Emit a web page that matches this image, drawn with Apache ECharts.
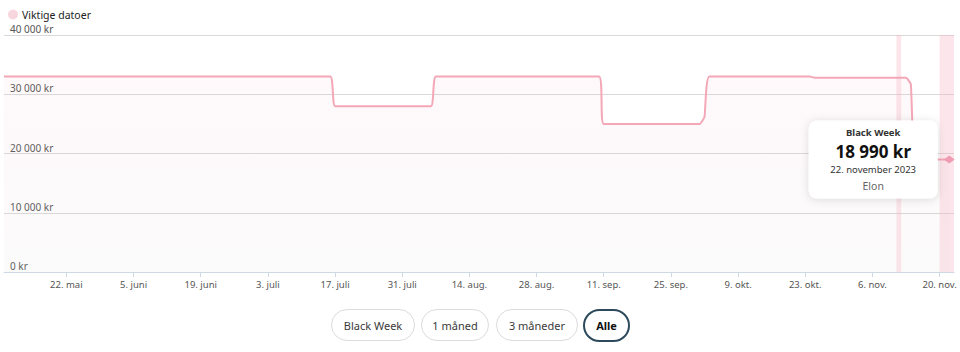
<!DOCTYPE html>
<html>
<head>
<meta charset="utf-8">
<script src="https://cdn.jsdelivr.net/npm/echarts@6/dist/echarts.min.js"></script>
<style>
  html, body { margin: 0; padding: 0; background: #fff; }
  #chart { width: 960px; height: 352px; }
</style>
</head>
<body>
<div id="chart"></div>
<script>
// prisdata (dato -> pris i kr)
const priceDates = [
  '2023-05-09', '2023-07-16', '2023-07-17', '2023-08-06', '2023-08-07',
  '2023-09-10', '2023-09-11', '2023-10-01', '2023-10-02', '2023-10-03',
  '2023-10-24', '2023-10-25', '2023-11-13', '2023-11-14', '2023-11-15',
  '2023-11-22'
]
const priceValues = [
  32990, 32990, 27990, 27990, 32990,
  32990, 24990, 24990, 26190, 32990,
  32990, 32790, 32790, 31690, 18990,
  18990
]

// viktige datoer (Singles Day, Black Week)
const eventNames = ['Singles Day', 'Black Week']
const eventStart = ['2023-11-11', '2023-11-20']
const eventEnd = ['2023-11-12', '2023-11-23']

const tickDates = [
  '2023-05-22', '2023-06-05', '2023-06-19', '2023-07-03', '2023-07-17',
  '2023-07-31', '2023-08-14', '2023-08-28', '2023-09-11', '2023-09-25',
  '2023-10-09', '2023-10-23', '2023-11-06', '2023-11-20'
]
const tickLabels = [
  '22. mai', '5. juni', '19. juni', '3. juli', '17. juli',
  '31. juli', '14. aug.', '28. aug.', '11. sep.', '25. sep.',
  '9. okt.', '23. okt.', '6. nov.', '20. nov.'
]
const yTicks = [0, 10000, 20000, 30000, 40000]

const tipTitle = 'Black Week'
const tipDate = '22. november 2023'
const tipShop = 'Elon'

const buttonLabels = ['Black Week', '1 måned', '3 måneder', 'Alle']

const toDay = function(s) {
  const p = s.split('-').map(Number)
  return Date.UTC(p[0], p[1] - 1, p[2]) / 86400000
}
const fmtKr = function(v) {
  return String(v).replace(/\B(?=(\d{3})+(?!\d))/g, ' ') + ' kr'
}

const tickDays = tickDates.map(toDay)
const lineData = priceDates.map((d, i) => [toDay(d), priceValues[i]])
const last = lineData[lineData.length - 1]

const font = '"Noto Sans", "DejaVu Sans", sans-serif'
const lineColor = '#f3a7b7'

// knapper under grafen
const btnX = [331, 421, 496, 583]
const btnW = [83, 67, 81, 45]
const buttons = buttonLabels.map((t, i) => {
  const active = i === buttonLabels.length - 1
  return {
    type: 'group',
    left: btnX[i],
    top: 309,
    children: [
      {
        type: 'rect',
        shape: { x: 0, y: 0, width: btnW[i], height: 31, r: 15.5 },
        style: {
          fill: '#fff',
          stroke: active ? '#2c4a5b' : '#dcdcdc',
          lineWidth: active ? 2 : 1
        }
      },
      {
        type: 'text',
        x: btnW[i] / 2,
        y: 15.5,
        style: {
          text: t,
          fill: active ? '#111' : '#3a3a3a',
          font: (active ? 'bold ' : '') + '11px ' + font,
          align: 'center',
          verticalAlign: 'middle'
        }
      }
    ]
  }
})

const chart = echarts.init(document.getElementById('chart'), null, { renderer: 'svg' })
chart.setOption({
  backgroundColor: '#fff',
  animation: false,
  textStyle: { fontFamily: font },
  legend: {
    left: 3,
    top: 4,
    icon: 'circle',
    itemWidth: 10,
    itemHeight: 10,
    itemGap: 4,
    data: ['Viktige datoer'],
    selectedMode: false,
    textStyle: { color: '#222', fontSize: 10.5, fontFamily: font, padding: [0, 0, 0, -1] }
  },
  grid: { left: 4, right: 6, top: 35, bottom: 80 },
  xAxis: {
    type: 'value',
    min: toDay('2023-05-09'),
    max: toDay('2023-11-23'),
    axisLine: { lineStyle: { color: '#cfd9e4', width: 1 } },
    axisTick: {
      show: true,
      customValues: tickDays,
      length: 5,
      lineStyle: { color: '#cfd9e4' }
    },
    axisLabel: {
      customValues: tickDays,
      color: '#555',
      fontSize: 9.5,
      margin: 7,
      formatter: function(v) {
        const i = tickDays.indexOf(v)
        return i >= 0 ? tickLabels[i] : ''
      }
    },
    splitLine: { show: false }
  },
  yAxis: {
    type: 'value',
    min: yTicks[0],
    max: yTicks[yTicks.length - 1],
    interval: yTicks[1] - yTicks[0],
    axisLine: { show: false },
    axisTick: { show: false },
    axisLabel: {
      inside: true,
      margin: 6,
      color: '#555',
      fontSize: 10,
      verticalAlign: 'bottom',
      padding: [0, 0, 1, 0],
      formatter: fmtKr
    },
    splitLine: { lineStyle: { color: '#d9d9d9', width: 1 } }
  },
  series: [
    {
      name: 'Viktige datoer',
      type: 'line',
      data: [],
      itemStyle: { color: '#f8d6de' },
      markArea: {
        silent: true,
        itemStyle: { color: 'rgba(246, 180, 198, 0.33)' },
        data: eventNames.map((n, i) => [
          { name: '', xAxis: toDay(eventStart[i]) },
          { xAxis: toDay(eventEnd[i]) }
        ])
      },
      z: 1
    },
    {
      name: 'Pris',
      type: 'line',
      data: lineData,
      smooth: 0.12,
      showSymbol: false,
      lineStyle: { color: lineColor, width: 2 },
      itemStyle: { color: lineColor },
      areaStyle: {
        color: new echarts.graphic.LinearGradient(0, 0, 0, 1, [
          { offset: 0, color: 'rgba(240, 170, 188, 0.11)' },
          { offset: 1, color: 'rgba(215, 210, 212, 0.14)' }
        ])
      },
      markPoint: {
        silent: true,
        symbol: 'diamond',
        symbolSize: [11, 8],
        itemStyle: { color: '#f09cb2' },
        data: [{ coord: last, value: last[1] }],
        label: {
          show: true,
          position: 'left',
          distance: 6,
          width: 129,
          backgroundColor: '#fff',
          borderRadius: 8,
          shadowColor: 'rgba(0, 0, 0, 0.13)',
          shadowBlur: 8,
          shadowOffsetY: 1,
          padding: [4, 0, 4, 0],
          formatter: function(p) {
            return '{t|' + tipTitle + '}\n{v|' + fmtKr(p.value) + '}\n{d|' + tipDate + '}\n{s|' + tipShop + '}'
          },
          rich: {
            t: { align: 'center', fontSize: 9.5, fontWeight: 'bold', color: '#333', lineHeight: 17, fontFamily: font },
            v: { align: 'center', fontSize: 17, fontWeight: 'bold', color: '#111', lineHeight: 20, fontFamily: font },
            d: { align: 'center', fontSize: 9.5, color: '#333', lineHeight: 17, fontFamily: font },
            s: { align: 'center', fontSize: 10.5, color: '#666', lineHeight: 16, fontFamily: font }
          }
        }
      },
      z: 3
    }
  ],
  graphic: buttons
})
</script>
</body>
</html>
